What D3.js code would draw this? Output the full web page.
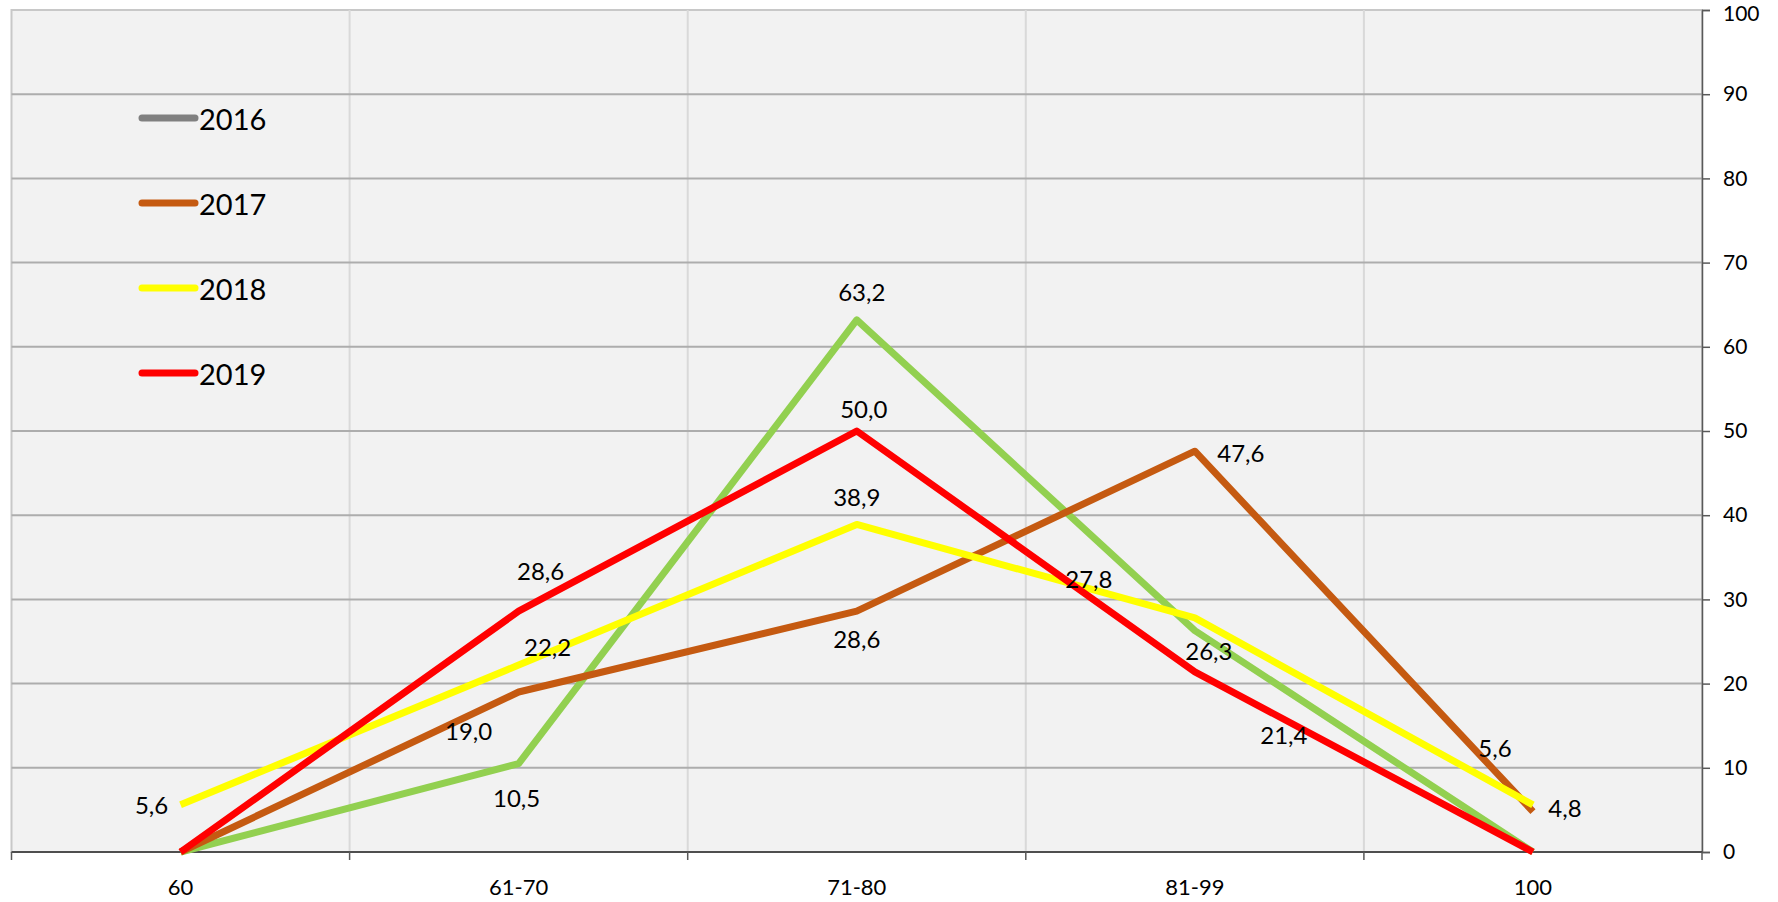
<!DOCTYPE html>
<html lang="en">
<head>
    <meta charset="UTF-8">
    <script src="https://d3js.org/d3.v7.min.js" charset="utf-8"></script>
    <title>Line chart</title>
    <style>
        body { margin: 0; background: #fff; }
        svg text { font-family: Lato, "Open Sans", sans-serif; fill: #000; }
    </style>
</head>
<body>
<div id="chart"></div>
<script>
    // categories on the x axis
    const categories = ["60", "61-70", "71-80", "81-99", "100"];
    const years = ["2016", "2017", "2018", "2019"];
    // values per year
    const values2016 = [0, 10.5, 63.2, 26.3, 0];
    const values2017 = [0, 19.0, 28.6, 47.6, 4.8];
    const values2018 = [5.6, 22.2, 38.9, 27.8, 5.6];
    const values2019 = [0, 28.6, 50.0, 21.4, 0];
    const yTicks = [0, 10, 20, 30, 40, 50, 60, 70, 80, 90, 100];

    const width = 1778;
    const height = 902;
    const plotLeft = 11.5, plotRight = 1702, plotTop = 10, plotBottom = 852;

    const lineColors = ["#92d050", "#c55a11", "#ffff00", "#ff0000"];
    const legendColors = ["#808080", "#c55a11", "#ffff00", "#ff0000"];

    // label offsets (dx, dy) from each point, null = no label
    const labelOffsets = [
        [null, [-2, 34], [5, -28], [14, 20], null],
        [null, [-50, 38], [0, 27], [46, 1], [32, -4]],
        [[-29, 0], [29, -19], [0, -28], [-106, -39], [-38, -57]],
        [null, [22, -41], [7, -23], [89, 63], null]
    ];

    const series = [values2016, values2017, values2018, values2019];

    const svg = d3.select("#chart").append("svg")
        .attr("width", width)
        .attr("height", height);

    const x = d3.scaleBand().domain(categories).range([plotLeft, plotRight]);
    const y = d3.scaleLinear().domain([0, 100]).range([plotBottom, plotTop]);
    const cx = c => x(c) + x.bandwidth() / 2;

    // plot background
    svg.append("rect")
        .attr("x", plotLeft).attr("y", plotTop)
        .attr("width", plotRight - plotLeft).attr("height", plotBottom - plotTop)
        .attr("fill", "#f2f2f2")
        .attr("stroke", "#c8c8c8")
        .attr("stroke-width", 2);

    // vertical gridlines at band edges
    const edges = categories.map(c => x(c)).concat([plotRight]);
    svg.selectAll(".vgrid")
        .data(edges.slice(1, -1))
        .enter().append("line")
        .attr("x1", d => d).attr("x2", d => d)
        .attr("y1", plotTop).attr("y2", plotBottom)
        .attr("stroke", "#d9d9d9").attr("stroke-width", 2);

    // horizontal gridlines
    svg.selectAll(".hgrid")
        .data(yTicks.slice(1, -1))
        .enter().append("line")
        .attr("x1", plotLeft).attr("x2", plotRight)
        .attr("y1", d => y(d)).attr("y2", d => y(d))
        .attr("stroke", "#adadad").attr("stroke-width", 2);

    // right axis
    const yAxis = svg.append("g")
        .attr("transform", `translate(${plotRight},0)`)
        .call(d3.axisRight(y).tickValues(yTicks).tickSize(8).tickPadding(13));
    yAxis.select(".domain").attr("stroke", "#595959").attr("stroke-width", 1.5);
    yAxis.selectAll(".tick line").attr("stroke", "#595959").attr("stroke-width", 1.5);
    yAxis.selectAll("text").attr("font-size", 21).attr("font-family", "Lato, sans-serif").attr("fill", "#000")
        .attr("dy", d => d === 100 ? "0.5em" : "0.32em");

    // bottom axis
    svg.append("line")
        .attr("x1", plotLeft).attr("x2", plotRight)
        .attr("y1", plotBottom).attr("y2", plotBottom)
        .attr("stroke", "#262626").attr("stroke-width", 1.5);
    svg.selectAll(".xtick")
        .data(edges)
        .enter().append("line")
        .attr("x1", d => d).attr("x2", d => d)
        .attr("y1", plotBottom).attr("y2", plotBottom + 8)
        .attr("stroke", "#595959").attr("stroke-width", 1.5);
    svg.selectAll(".xlabel")
        .data(categories)
        .enter().append("text")
        .attr("x", d => cx(d))
        .attr("y", plotBottom + 34)
        .attr("text-anchor", "middle")
        .attr("dominant-baseline", "central")
        .attr("font-size", 22)
        .text(d => d);

    // lines
    const line = d3.line()
        .x((d, i) => cx(categories[i]))
        .y(d => y(d));

    svg.selectAll(".series")
        .data(series)
        .enter().append("path")
        .attr("d", d => line(d))
        .attr("fill", "none")
        .attr("stroke", (d, i) => lineColors[i])
        .attr("stroke-width", 7)
        .attr("stroke-linejoin", "round");

    // data labels
    const fmt = v => d3.format(".1f")(v).replace(".", ",");
    series.forEach((vals, s) => {
        vals.forEach((v, i) => {
            const off = labelOffsets[s][i];
            if (!off) return;
            svg.append("text")
                .attr("x", cx(categories[i]) + off[0])
                .attr("y", y(v) + off[1])
                .attr("text-anchor", "middle")
                .attr("dominant-baseline", "central")
                .attr("font-size", 24)
                .text(fmt(v));
        });
    });

    // legend
    const legend = svg.selectAll(".legend")
        .data(years)
        .enter().append("g")
        .attr("transform", (d, i) => `translate(142,${118 + i * 85})`);
    legend.append("line")
        .attr("x1", 0).attr("x2", 53)
        .attr("stroke", (d, i) => legendColors[i])
        .attr("stroke-width", 7)
        .attr("stroke-linecap", "round");
    legend.append("text")
        .attr("x", 57)
        .attr("dominant-baseline", "central")
        .attr("font-size", 29)
        .text(d => d);
</script>
</body>
</html>
